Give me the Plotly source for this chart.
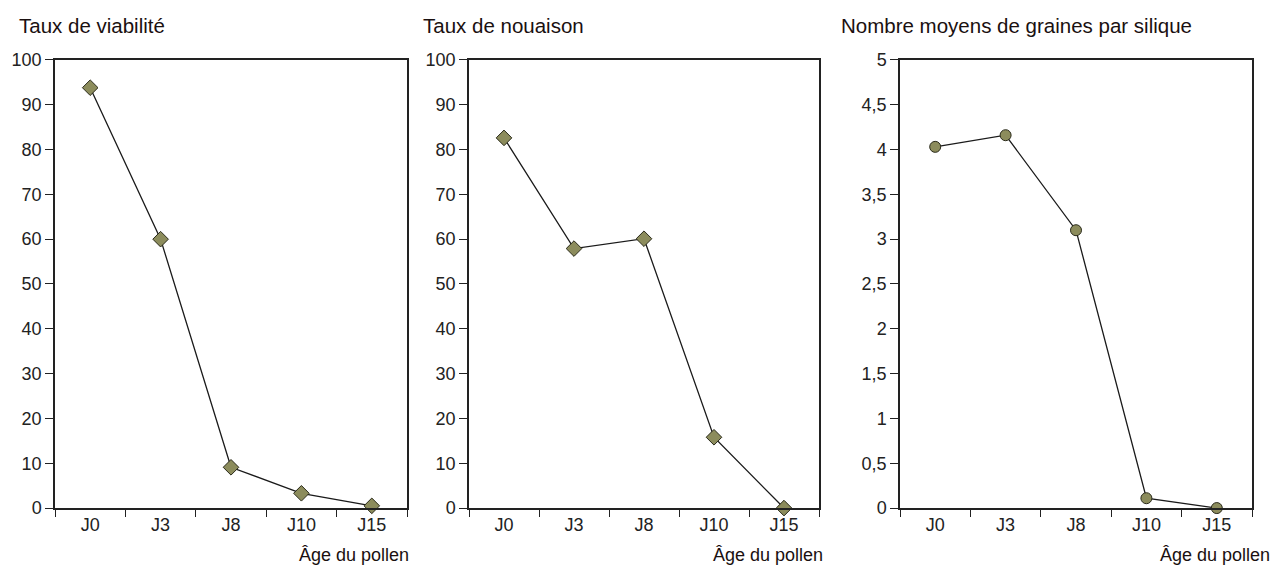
import plotly.graph_objects as go

categories = ["J0", "J3", "J8", "J10", "J15"]
viabilite = [93.8, 60.0, 9.1, 3.3, 0.5]
nouaison = [82.6, 57.9, 60.1, 15.8, 0.0]
graines = [4.03, 4.16, 3.10, 0.11, 0.0]

titles = ["Taux de viabilité", "Taux de nouaison", "Nombre moyens de graines par silique"]
xlabel = "Âge du pollen"

W, H = 1276, 570
panels_px = [(55, 407), (469, 819), (900, 1252)]
top_px, bot_px = 59, 508

# calibration of the vertical placement observed in the renderer
def yfrac(ypx):
    return 1 - ((ypx - 9) / 0.9667) / H

fig = go.Figure()
series = [viabilite, nouaison, graines]
symbols = ["diamond", "diamond", "circle"]
for i, (vals, sym) in enumerate(zip(series, symbols)):
    ax = "" if i == 0 else str(i + 1)
    fig.add_trace(go.Scatter(
        x=categories, y=vals, mode="lines+markers",
        xaxis="x" + ax, yaxis="y" + ax,
        line=dict(color="#1a1a1a", width=1.3),
        marker=dict(symbol=sym, size=12 if sym == "diamond" else 11,
                    color="#8c8c5c", line=dict(color="#2a2a1a", width=1)),
        showlegend=False, cliponaxis=False,
    ))

tickfont = dict(family="Liberation Sans, Arial, sans-serif", size=18, color="#222")
txtfont = "Liberation Sans, Arial, sans-serif"
ydom = [yfrac(bot_px), yfrac(top_px)]
layout = dict(width=W, height=H, margin=dict(l=0, r=0, t=0, b=0),
              paper_bgcolor="white", plot_bgcolor="white")
for i, (l, r) in enumerate(panels_px):
    ax = "" if i == 0 else str(i + 1)
    layout["xaxis" + ax] = dict(
        domain=[l / W, r / W], anchor="y" + ax, type="category",
        range=[-0.5, 4.5], tickson="boundaries", ticks="outside", ticklen=7,
        tickcolor="#222", showline=True, linecolor="#222", linewidth=1.5,
        mirror=True, showgrid=False, zeroline=False, tickfont=tickfont,
        fixedrange=True)
    if i < 2:
        yax = dict(range=[0, 100], dtick=10)
    else:
        yax = dict(range=[0, 5], tickvals=[0, 0.5, 1, 1.5, 2, 2.5, 3, 3.5, 4, 4.5, 5],
                   ticktext=["0", "0,5", "1", "1,5", "2", "2,5", "3", "3,5", "4", "4,5", "5"])
    yax.update(domain=ydom, anchor="x" + ax, ticks="outside", ticklen=8,
               tickcolor="#222", showline=True, linecolor="#222", linewidth=1.5,
               mirror=True, showgrid=False, zeroline=False, tickfont=tickfont,
               fixedrange=True)
    layout["yaxis" + ax] = yax

fig.update_layout(**layout)

title_x = [17, 421, 839]
xlabel_x = [411, 825, 1272]
for i in range(3):
    fig.add_annotation(text=titles[i], x=title_x[i] / W, y=yfrac(25), xref="paper", yref="paper",
                       xanchor="left", yanchor="middle", showarrow=False,
                       font=dict(family=txtfont, size=20.5, color="#1a1010"))
    fig.add_annotation(text=xlabel, x=xlabel_x[i] / W, y=yfrac(555), xref="paper", yref="paper",
                       xanchor="right", yanchor="middle", showarrow=False,
                       font=dict(family=txtfont, size=18, color="#1a1010"))

fig.write_html("out.html",
               config={"displayModeBar": False},
               post_script="document.body.style.margin='0';document.body.style.overflow='hidden';")
